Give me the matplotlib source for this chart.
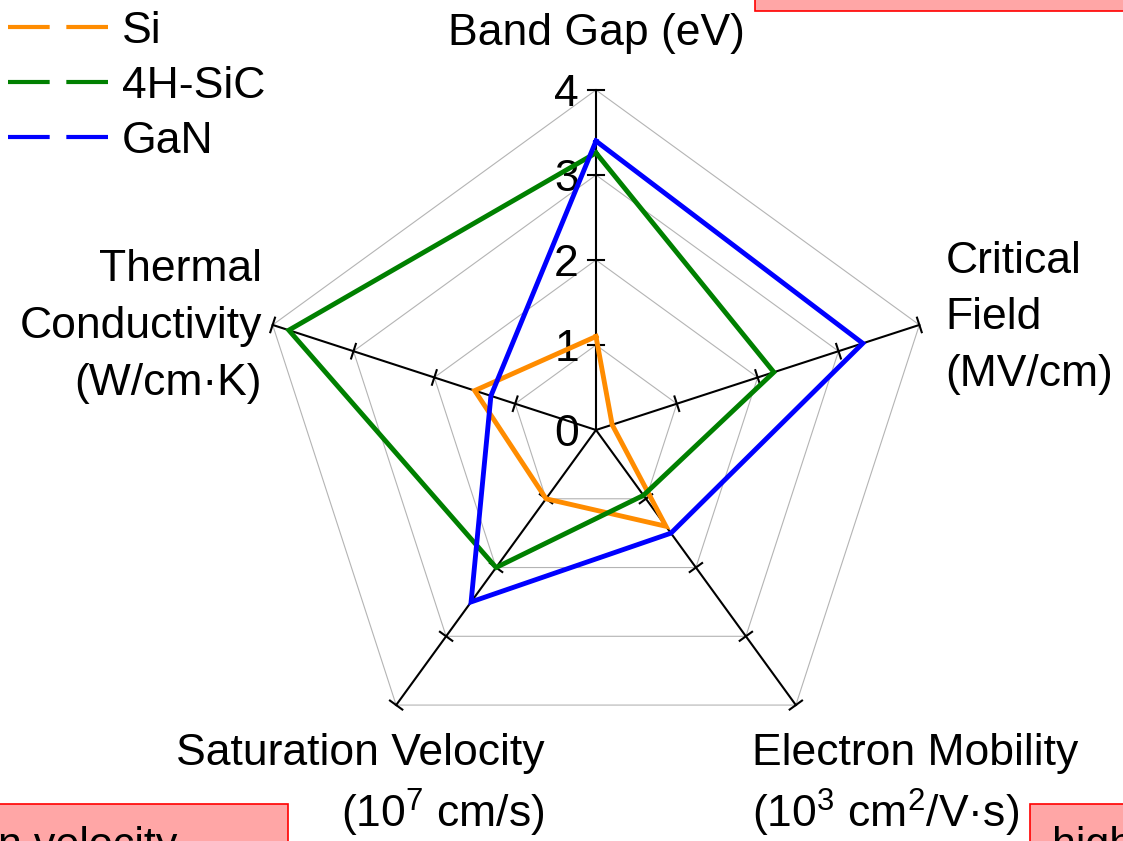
import numpy as np
import matplotlib
matplotlib.use('Agg')
import matplotlib.pyplot as plt
from matplotlib.lines import Line2D
from matplotlib.patches import Rectangle

plt.rcParams['font.family'] = ['Liberation Sans', 'DejaVu Sans']
plt.rcParams['mathtext.fontset'] = 'custom'
plt.rcParams['mathtext.rm'] = 'Liberation Sans'
plt.rcParams['mathtext.default'] = 'regular'

## 数据
axis_names = ['Band Gap', 'Critical Field', 'Electron Mobility',
              'Saturation Velocity', 'Thermal Conductivity']
materials = ['Si', '4H-SiC', 'GaN']
si = [1.1, 0.2, 1.4, 1.0, 1.5]
sic = [3.26, 2.2, 0.95, 2.0, 3.8]
gan = [3.4, 3.3, 1.5, 2.5, 1.3]
levels = [1, 2, 3, 4]
level_labels = ['0', '1', '2', '3', '4']
colors = ['#FF8C00', '#008000', '#0000FF']

W, H = 1123, 841
U = 85.0            # 每单位像素
cx, cy = 596, 430   # 中心像素位置

fig = plt.figure(figsize=(W / 100, H / 100), dpi=100)
ax = fig.add_axes([0, 0, 1, 1])
ax.set_xlim(-cx / U, (W - cx) / U)
ax.set_ylim(-(H - cy) / U, cy / U)
ax.axis('off')

angles = np.deg2rad([90, 18, -54, -126, 162])
ux, uy = np.cos(angles), np.sin(angles)

## 网格 (灰色五边形)
for lv in levels:
    ax.plot(np.append(ux, ux[0]) * lv, np.append(uy, uy[0]) * lv,
            color='#b4b4b4', lw=0.8, zorder=1)

## 坐标轴和刻度
tk = 0.09
for x, y in zip(ux, uy):
    ax.plot([0, x * levels[-1]], [0, y * levels[-1]], color='black', lw=1.5, zorder=2)
    for lv in levels:
        px, py = x * lv, y * lv
        ax.plot([px - y * tk, px + y * tk], [py + x * tk, py - x * tk],
                color='black', lw=1.5, zorder=2)

for i, lab in enumerate(level_labels):
    ax.text(-0.2, i, lab, ha='right', va='center_baseline', fontsize=32, zorder=3)

## 雷达线
for vals, c in zip([si, sic, gan], colors):
    v = np.array(vals)
    ax.plot(np.append(ux * v, ux[0] * v[0]), np.append(uy * v, uy[0] * v[0]),
            color=c, lw=3.5, solid_joinstyle='miter', zorder=4)

## 轴标签
fs = 32
ax.text(0, 4.67, 'Band Gap (eV)', ha='center', va='center', fontsize=fs)
ax.text(4.11, 1.32, 'Critical\nField\n(MV/cm)', ha='left', va='center',
        fontsize=fs, linespacing=1.48)
ax.text(-3.93, 1.22, 'Thermal\nConductivity\n(W/cm·K)', ha='right', va='center',
        fontsize=fs, linespacing=1.5, multialignment='right')
ax.text(-0.6, -3.80, 'Saturation Velocity', ha='right', va='center', fontsize=fs)
ax.text(-0.6, -4.51, '(10$^7$ cm/s)', ha='right', va='center', fontsize=fs)
ax.text(1.835, -3.80, 'Electron Mobility', ha='left', va='center', fontsize=fs)
ax.text(1.835, -4.51, '(10$^3$ cm$^2$/V·s)', ha='left', va='center', fontsize=fs)

## 图例
handles = [Line2D([], [], color=c, lw=3, dashes=(10, 4)) for c in colors]
ax.legend(handles, materials, loc='upper left', bbox_to_anchor=(8 / W, 1 - 11 / H),
          bbox_transform=fig.transFigure, frameon=False, fontsize=fs,
          borderpad=0, borderaxespad=0, handlelength=2.3, handletextpad=0.27,
          labelspacing=0.31)

## 页面上的红色框
def px_rect(x0, y0, x1, y1):
    return Rectangle((x0 / W, 1 - y1 / H), (x1 - x0) / W, (y1 - y0) / H,
                     transform=fig.transFigure, facecolor='#FFA6A6',
                     edgecolor='#FF0000', lw=1.2)

fig.add_artist(px_rect(755, -20, W + 20, 11))
fig.add_artist(px_rect(-20, 804, 288, H + 20))
fig.add_artist(px_rect(1030, 804, W + 20, H + 20))
fig.text(-2 / W, -16 / H, 'n velocity', ha='left', va='baseline', fontsize=31)
fig.text(1052 / W, -16 / H, 'high', ha='left', va='baseline', fontsize=31)

plt.savefig('out.png', dpi=100)
